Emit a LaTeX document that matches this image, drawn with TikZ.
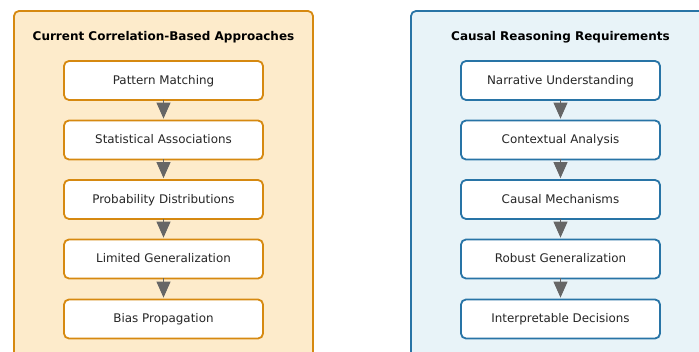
\documentclass[tikz,border=0pt]{standalone}
\usepackage{fontspec}
\setmainfont{DejaVu Sans}
\usetikzlibrary{arrows.meta}
\definecolor{lfill}{HTML}{FDEBCB}
\definecolor{lborder}{HTML}{D68910}
\definecolor{rfill}{HTML}{E8F3F8}
\definecolor{rborder}{HTML}{2874A6}
\definecolor{arr}{HTML}{666666}
\begin{document}
\begin{tikzpicture}[x=1pt,y=-1pt,
  panel/.style={line width=1.8pt,rounded corners=5pt},
  item/.style={draw,fill=white,line width=1.8pt,rounded corners=5pt,minimum width=199pt,minimum height=39pt,inner sep=0pt,font=\fontsize{11.9}{14}\selectfont,text=black!85,text height=8.7pt,text depth=1.3pt},
  ttl/.style={font=\bfseries\fontsize{12}{14}\selectfont},
  flow/.style={draw=arr,line width=1pt,-{Triangle[length=16pt,width=14pt]},shorten <=-1pt,shorten >=1pt,fill=arr}]
\useasboundingbox (0,0) rectangle (699,352);
\draw[panel,draw=lborder,fill=lfill] (14,11) rectangle (313,370);
\draw[panel,draw=rborder,fill=rfill] (411,11) rectangle (720,370);
\node[ttl] (t1) at (163.5,37.5) {Current Correlation-Based Approaches};
\node[ttl] (t2) at (560.5,37.5) {Causal Reasoning Requirements};
\foreach \n/\y/\txt in {1/80.5/Pattern Matching,2/140/Statistical Associations,3/199.5/Probability Distributions,4/259/Limited Generalization,5/319/Bias Propagation}
  \node[item,draw=lborder] (l\n) at (163.5,\y) {\txt};
\foreach \n/\y/\txt in {1/80.5/Narrative Understanding,2/140/Contextual Analysis,3/199.5/Causal Mechanisms,4/259/Robust Generalization,5/319/Interpretable Decisions}
  \node[item,draw=rborder] (r\n) at (560.5,\y) {\txt};
\foreach \a/\b in {1/2,2/3,3/4,4/5}{
  \draw[flow] (l\a.south) -- (l\b.north);
  \draw[flow] (r\a.south) -- (r\b.north);
}
\end{tikzpicture}
\end{document}
